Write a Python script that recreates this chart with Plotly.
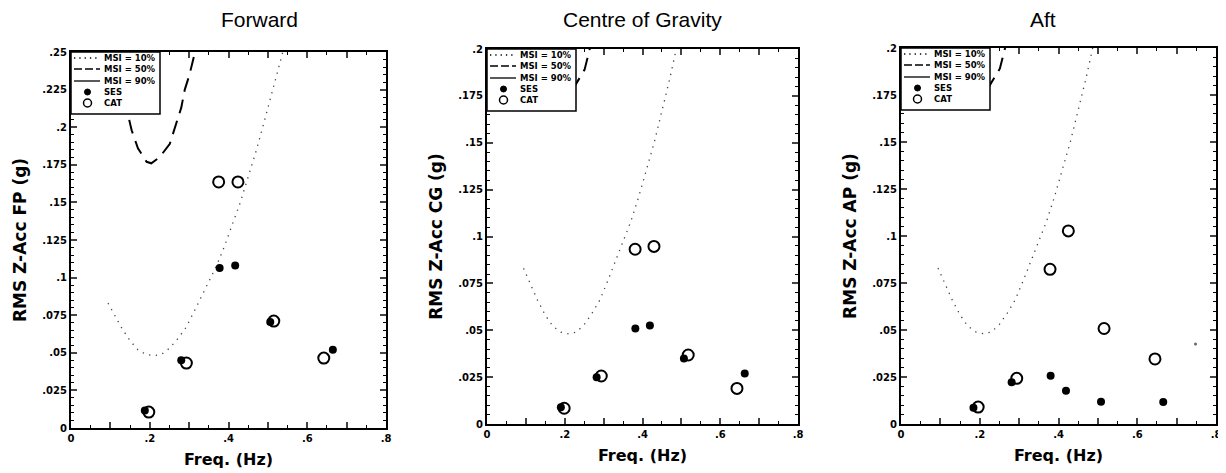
import plotly.graph_objects as go
from plotly.subplots import make_subplots

# MSI curves (same for every panel)
msi10_freq = [0.094, 0.11, 0.13, 0.15, 0.17, 0.19, 0.21, 0.23, 0.25, 0.27, 0.29, 0.31,
              0.33, 0.35, 0.37, 0.39, 0.41, 0.43, 0.45, 0.47, 0.49, 0.51, 0.53, 0.54]
msi10_acc = [0.083, 0.075, 0.066, 0.058, 0.052, 0.049, 0.048, 0.049, 0.053, 0.059, 0.066, 0.076,
             0.087, 0.097, 0.108, 0.121, 0.135, 0.150, 0.167, 0.184, 0.203, 0.222, 0.242, 0.252]
msi50_freq = [0.10, 0.12, 0.145, 0.154, 0.170, 0.192, 0.204, 0.225, 0.251, 0.268, 0.280, 0.289,
              0.301, 0.315, 0.33]
msi50_acc = [0.262, 0.235, 0.208, 0.198, 0.186, 0.177, 0.176, 0.180, 0.189, 0.203, 0.213, 0.225,
             0.235, 0.250, 0.265]

# Forward
fwd_ses_freq = [0.1875, 0.280, 0.3775, 0.417, 0.506, 0.665]
fwd_ses_acc = [0.0117, 0.045, 0.1064, 0.108, 0.0705, 0.052]
fwd_cat_freq = [0.1976, 0.293, 0.375, 0.424, 0.515, 0.642]
fwd_cat_acc = [0.0106, 0.0432, 0.1636, 0.1636, 0.0711, 0.0465]

# Centre of Gravity
cg_ses_freq = [0.190, 0.282, 0.3816, 0.419, 0.5065, 0.663]
cg_ses_acc = [0.0089, 0.0249, 0.0509, 0.0525, 0.035, 0.027]
cg_cat_freq = [0.1985, 0.294, 0.381, 0.4295, 0.5176, 0.643]
cg_cat_acc = [0.0084, 0.0256, 0.0932, 0.0947, 0.0368, 0.019]

# Aft
aft_ses_freq = [0.184, 0.281, 0.380, 0.419, 0.508, 0.666]
aft_ses_acc = [0.0087, 0.0222, 0.0256, 0.0177, 0.0119, 0.0117]
aft_cat_freq = [0.196, 0.294, 0.3785, 0.425, 0.5157, 0.645]
aft_cat_acc = [0.009, 0.0243, 0.0823, 0.1027, 0.0508, 0.0346]
aft_stray_freq = [0.748]
aft_stray_acc = [0.0426]

titles = ["Forward", "Centre of Gravity", "Aft"]
y_titles = ["RMS Z-Acc FP (g)", "RMS Z-Acc CG (g)", "RMS Z-Acc AP (g)"]
y_max = [0.25, 0.2, 0.2]
x_ticks = [0, 0.1, 0.2, 0.3, 0.4, 0.5, 0.6, 0.7, 0.8]
x_labels = ["0", "", ".2", "", ".4", "", ".6", "", ".8"]
y_ticks_fwd = [0, 0.025, 0.05, 0.075, 0.1, 0.125, 0.15, 0.175, 0.2, 0.225, 0.25]
y_labels_fwd = ["0", ".025", ".05", ".075", ".1", ".125", ".15", ".175", ".2", ".225", ".25"]
legend_labels = ["MSI = 10%", "MSI = 50%", "MSI = 90%", "SES", "CAT"]

panels = [
    (fwd_ses_freq, fwd_ses_acc, fwd_cat_freq, fwd_cat_acc),
    (cg_ses_freq, cg_ses_acc, cg_cat_freq, cg_cat_acc),
    (aft_ses_freq, aft_ses_acc, aft_cat_freq, aft_cat_acc),
]

# the page adds an 8px body margin at top-left, so the figure is shifted by it
PAGE_W, PAGE_H, OFF = 1226, 473, 8
W, H = PAGE_W - OFF, PAGE_H - OFF

# plot boxes in page pixels: (left, right, top, bottom)
boxes = [(71, 386, 52, 428), (487, 798, 49, 424), (901, 1216, 48, 424)]
x_domains = [[(l - OFF) / W, (r - OFF) / W] for l, r, t, b in boxes]
y_domains = [[(H - (b - OFF)) / H, (H - (t - OFF)) / H] for l, r, t, b in boxes]
title_pos = [(219, 19), (642, 19), (1058, 19)]

axis_font = dict(family="DejaVu Sans", color="black", weight="bold")

fig = make_subplots(rows=1, cols=3)

for i, (ses_x, ses_y, cat_x, cat_y) in enumerate(panels):
    col = i + 1
    fig.add_trace(go.Scatter(x=msi10_freq, y=msi10_acc, mode="lines", showlegend=False,
                             line=dict(color="#444", width=1.3, dash="1.3px,5.5px")),
                  row=1, col=col)
    fig.add_trace(go.Scatter(x=msi50_freq, y=msi50_acc, mode="lines", showlegend=False,
                             line=dict(color="black", width=2, dash="14px,8px")),
                  row=1, col=col)
    fig.add_trace(go.Scatter(x=ses_x, y=ses_y, mode="markers", showlegend=False,
                             marker=dict(symbol="circle", size=8, color="black")),
                  row=1, col=col)
    fig.add_trace(go.Scatter(x=cat_x, y=cat_y, mode="markers", showlegend=False,
                             marker=dict(symbol="circle-open", size=11, color="black",
                                         line=dict(width=2))),
                  row=1, col=col)

    yt = [v for v in y_ticks_fwd if v <= y_max[i] + 1e-9]
    yl = y_labels_fwd[:len(yt)]
    fig.update_xaxes(range=[0, 0.8], domain=x_domains[i], tickvals=x_ticks, ticktext=x_labels,
                     ticks="inside", ticklen=6, tickwidth=1.5, mirror="ticks",
                     showline=True, linecolor="black", linewidth=2, showgrid=False,
                     zeroline=False, automargin=False, ticklabeloverflow="allow",
                     minor=dict(dtick=0.05, tick0=0, ticks="inside", ticklen=3, tickwidth=1.2,
                                tickcolor="black", showgrid=False),
                     tickfont=dict(size=10, **axis_font),
                     title=dict(text="Freq. (Hz)", standoff=11, font=dict(size=16, **axis_font)),
                     row=1, col=col)
    fig.update_yaxes(range=[0, y_max[i]], domain=y_domains[i], tickvals=yt, ticktext=yl,
                     ticks="inside", ticklen=6, tickwidth=1.5, mirror="ticks",
                     showline=True, linecolor="black", linewidth=2, showgrid=False,
                     zeroline=False, automargin=False, ticklabeloverflow="allow",
                     minor=dict(dtick=0.005, tick0=0, ticks="inside", ticklen=3, tickwidth=1.2,
                                tickcolor="black", showgrid=False),
                     tickfont=dict(size=10, **axis_font),
                     title=dict(text=y_titles[i], standoff=11, font=dict(size=17, **axis_font)),
                     row=1, col=col)

    # legend box drawn by hand (plotly's legend rows are too tall)
    pw = (x_domains[i][1] - x_domains[i][0]) * W
    ph = (y_domains[i][1] - y_domains[i][0]) * H
    xr = "x domain" if i == 0 else f"x{col} domain"
    yr = "y domain" if i == 0 else f"y{col} domain"

    def fx(d):
        return d / pw

    def fy(d):
        return 1 - d / ph

    fig.add_shape(type="rect", xref=xr, yref=yr, x0=0, x1=fx(89), y0=fy(62), y1=1,
                  fillcolor="white", line=dict(color="black", width=1.5), layer="above")
    rows = [6, 17, 29, 40, 51]
    dashes = ["1.3px,4px", "8px,3px", "solid"]
    for r, dash in zip(rows[:3], dashes):
        fig.add_shape(type="line", xref=xr, yref=yr, x0=fx(3), x1=fx(29), y0=fy(r), y1=fy(r),
                      line=dict(color="black", width=1.3, dash=dash), layer="above")
    fig.add_shape(type="circle", xref=xr, yref=yr, x0=fx(13.5), x1=fx(19.5),
                  y0=fy(rows[3] + 3), y1=fy(rows[3] - 3),
                  fillcolor="black", line=dict(color="black", width=1), layer="above")
    fig.add_shape(type="circle", xref=xr, yref=yr, x0=fx(12.5), x1=fx(20.5),
                  y0=fy(rows[4] + 4), y1=fy(rows[4] - 4),
                  line=dict(color="black", width=1.5), layer="above")
    for r, lab in zip(rows, legend_labels):
        fig.add_annotation(text=lab, xref=xr, yref=yr, x=fx(31), y=fy(r), xanchor="left",
                           yanchor="middle", showarrow=False,
                           font=dict(family="DejaVu Sans", size=8.5, color="black",
                                     weight="bold"))

# lone faint dot near the right edge of the Aft panel
fig.add_trace(go.Scatter(x=aft_stray_freq, y=aft_stray_acc, mode="markers", showlegend=False,
                         marker=dict(size=3, color="#666")), row=1, col=3)

for t, (px, py) in zip(titles, title_pos):
    fig.add_annotation(text=t, x=(px - OFF) / W, y=(H - (py - OFF)) / H,
                       xref="paper", yref="paper", showarrow=False, yanchor="middle",
                       font=dict(family="Liberation Sans", size=21, color="black"))

fig.update_layout(
    width=W, height=H,
    margin=dict(l=0, r=0, t=0, b=0),
    paper_bgcolor="white", plot_bgcolor="white",
    showlegend=False,
)

fig.write_html("out.html")
